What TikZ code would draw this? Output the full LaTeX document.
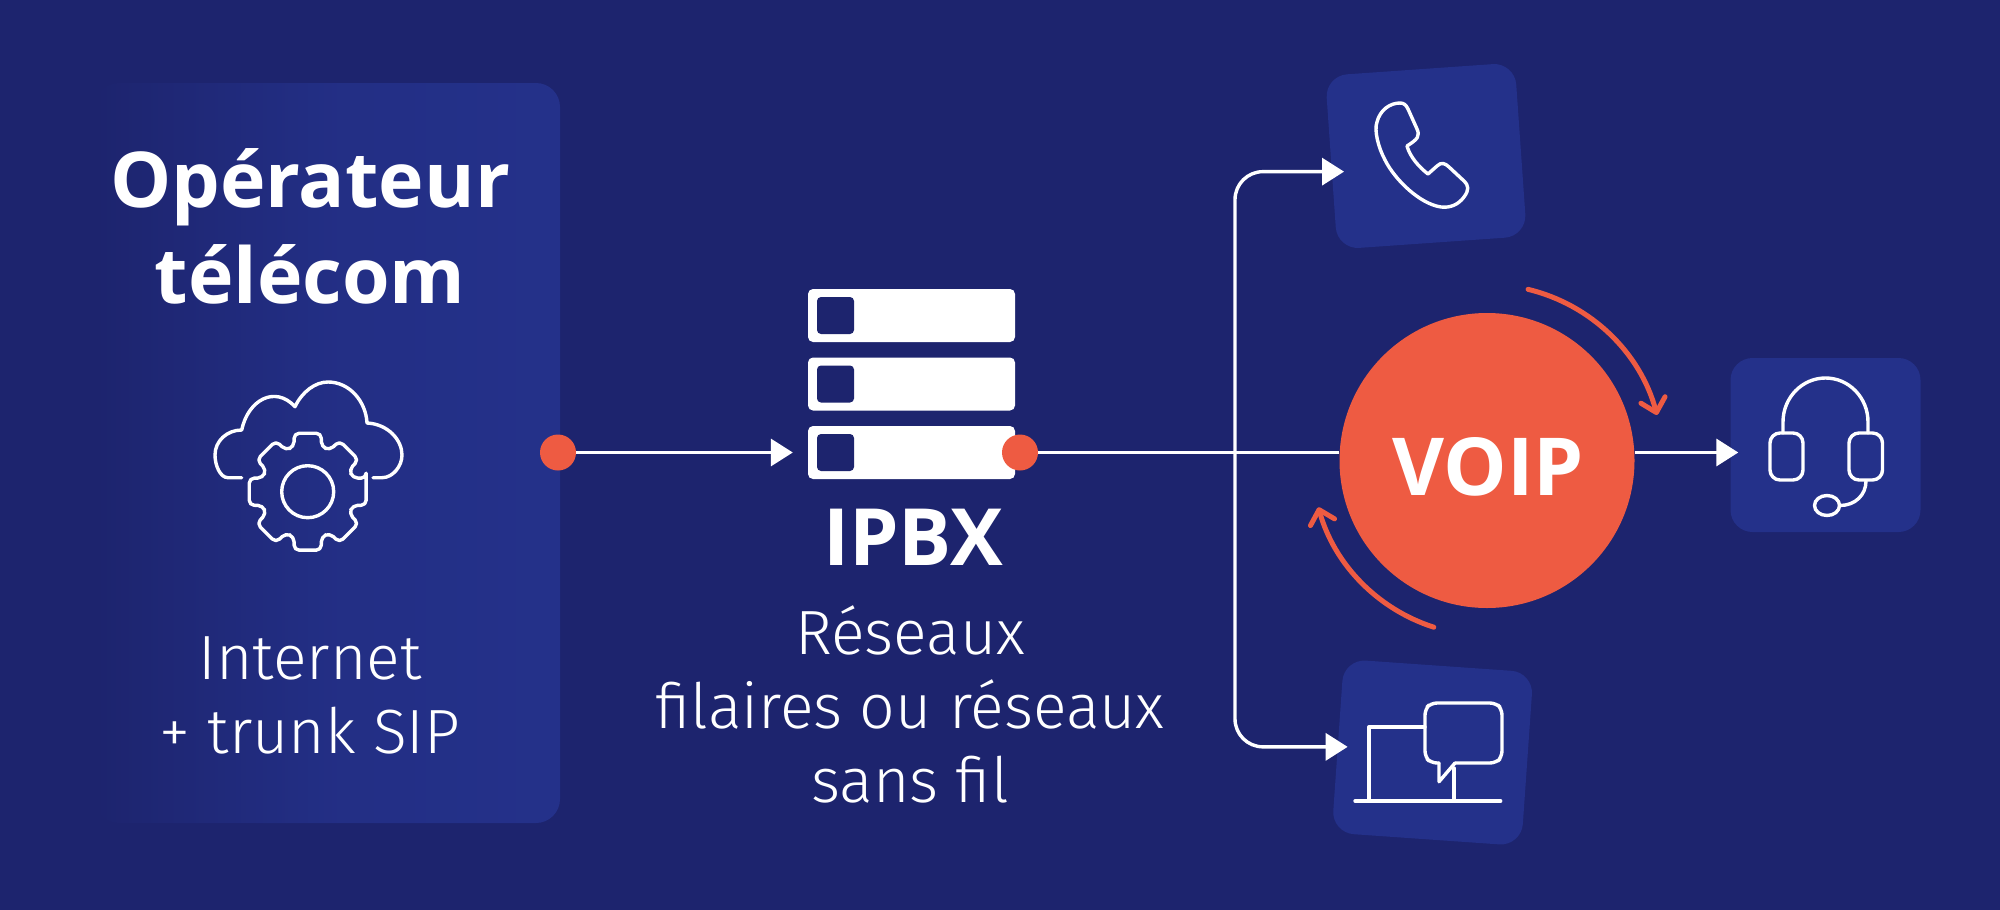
\documentclass[tikz,border=0pt]{standalone}
\usepackage{fontspec}
\setmainfont{Open Sans}
\newfontfamily\lightfont{Fira Sans Light}
\usetikzlibrary{arrows.meta}
\definecolor{bgblue}{HTML}{1D246E}
\definecolor{tileblue}{HTML}{24318A}
\definecolor{voipred}{HTML}{EE5B42}
\tikzset{
    wire/.style={draw=white,line width=3.4pt,-{Triangle[length=22pt,width=27pt]}},
    plainwire/.style={draw=white,line width=3.4pt},
    turn/.style={draw=voipred,line width=5pt,line cap=round,-{Straight Barb[length=13pt,width=25pt,round]}},
    icon/.style={draw=white,line width=3.4pt,line cap=round,line join=round},
    tile/.style={fill=tileblue,rounded corners=22pt,minimum width=190pt,minimum height=174pt,inner sep=0pt},
    dot/.style={circle,fill=voipred,minimum size=36pt,inner sep=0pt},
    bar/.style={fill=white,rounded corners=5pt,minimum width=207pt,minimum height=53pt,inner sep=0pt},
    barkey/.style={fill=bgblue,rounded corners=4pt,minimum width=37pt,minimum height=37pt,inner sep=0pt},
    boldtxt/.style={text=white,font=\bfseries\fontsize{79}{96}\selectfont,align=center,inner sep=0pt},
    lighttxt/.style={text=white,font=\lightfont\fontsize{62.5}{74}\selectfont,align=center,inner sep=0pt},
}
\begin{document}
\begin{tikzpicture}[x=1pt,y=-1pt]

    \fill[bgblue] (0,0) rectangle (2000,910);
    \useasboundingbox (0,0) rectangle (2000,910);

    % left panel
    \node[rounded corners=24pt,left color=bgblue,right color=tileblue,middle color=tileblue!80!bgblue,minimum width=465pt,minimum height=740pt,inner sep=0pt] (panel) at (327.5,453) {};
    \node[boldtxt,font=\bfseries\fontsize{77}{96}\selectfont] (optitle) at (310,226) {Opérateur\\télécom};
    \node[lighttxt] (optext) at (310,695) {Internet\\+ trunk SIP};

    % cloud and gear
    \draw[icon] (241.7,477.7) -- (228,477.7) .. controls (220,477.7) and (215,465) .. (215,455) .. controls (215,441) and (227,430) .. (241.7,430) .. controls (248,400) and (275,385) .. (295,406.7) .. controls (302,392) and (315,382) .. (328,382) .. controls (350,382) and (366,402) .. (367,423) .. controls (388,424) and (402,440) .. (402,455) .. controls (402,466) and (393,477.7) .. (382,477.7) -- (373,477.7);
    \coordinate (gearmid) at (307.7,491.7);
    \draw[icon,rounded corners=5pt] (gearmid) ++(-13:60) \foreach \a in {0,45,...,315} { -- ([shift={(\a-13:60)}]gearmid) -- ([shift={(\a+13:60)}]gearmid) -- ([shift={(\a+17:47)}]gearmid) -- ([shift={(\a+28:47)}]gearmid) } -- cycle;
    \draw[icon] (gearmid) circle[radius=26];

    % server
    \foreach \y/\n in {315.5/1,384/2,452.5/3} {
        \node[bar] (srv\n) at (911.5,\y) {};
        \node[barkey] (key\n) at (835.5,\y) {};
    }
    \node[boldtxt] (ipbx) at (913,537) {IPBX};
    \node[lighttxt] (net) at (910,704) {Réseaux\\filaires ou réseaux\\sans fil};

    \node[dot] (opdot) at (558,452.5) {};
    \node[dot] (srvdot) at (1020,452.5) {};

    % tiles
    \node[tile,rotate=4] (phone) at (1426,156) {};
    \node[tile] (headset) at (1825.5,445) {};
    \node[tile,rotate=-4] (chat) at (1432.6,752.5) {};

    % voip
    \node[circle,fill=voipred,minimum size=295pt,inner sep=0pt] (voip) at (1487,460.5) {};
    \node[boldtxt,font=\bfseries\fontsize{80}{96}\selectfont] (voiptxt) at (1488,467) {VOIP};

    % connectors
    \coordinate (split) at (1235,452.5);
    \draw[wire,shorten >=15pt] (opdot) -- (srv3);
    \draw[plainwire] (srvdot) -- (srvdot -| voip.west);
    \draw[wire,rounded corners=28pt] (split) |- ([shift={(13,9)}]phone.west);
    \draw[wire,rounded corners=28pt] (split) |- ([shift={(10,1)}]chat.west);
    \draw[wire] (srvdot -| voip.east) -- ([xshift=8pt]srvdot -| headset.west);

    \draw[turn] ([shift={(-76.5:176)}]voip.center) arc[start angle=-76.5,end angle=-15,radius=176];
    \draw[turn] ([shift={(-252.3:175)}]voip.center) arc[start angle=-252.3,end angle=-195.5,radius=175];

    % phone
    \draw[icon] (1400,103) .. controls (1404,103) and (1406,105) .. (1408,109) -- (1417,129) .. controls (1420,136) and (1418,139) .. (1407,146) .. controls (1410,157) and (1419,167) .. (1428,174) -- (1437,166) .. controls (1441,162) and (1445,163) .. (1449,167) -- (1464,181) .. controls (1469,186) and (1469,190) .. (1464,197) .. controls (1458,205) and (1450,208) .. (1441,207) .. controls (1420,204) and (1395,180) .. (1385,160) .. controls (1378,147) and (1374,130) .. (1377,122) .. controls (1380,110) and (1390,103) .. (1400,103) -- cycle;

    % headset
    \draw[icon] (1783,433) -- (1783,422) arc[start angle=180,end angle=0,x radius=42.5,y radius=-44] -- (1868,433);
    \draw[icon,rounded corners=10pt] (1770,433) rectangle (1803,480);
    \draw[icon,rounded corners=10pt] (1849,433) rectangle (1882.5,480);
    \draw[icon] (1866,481) .. controls (1866,495) and (1855,505.5) .. (1840,505.5);
    \draw[icon] (1827,505.5) circle[x radius=12.5,y radius=10];

    % laptop and bubble
    \draw[icon] (1425,727) -- (1369,727) -- (1369,801);
    \draw[icon] (1355,801) -- (1500.7,801);
    \draw[icon] (1454,768) -- (1454,801);
    \draw[icon,rounded corners=6pt] (1439,763) -- (1431,763) -- (1425,757) -- (1425,709) -- (1431,703) -- (1496,703) -- (1502,709) -- (1502,757) -- (1496,763) -- (1455,763);
    \draw[icon] (1439,763) -- (1439,781.7) -- (1455,763);

\end{tikzpicture}
\end{document}
